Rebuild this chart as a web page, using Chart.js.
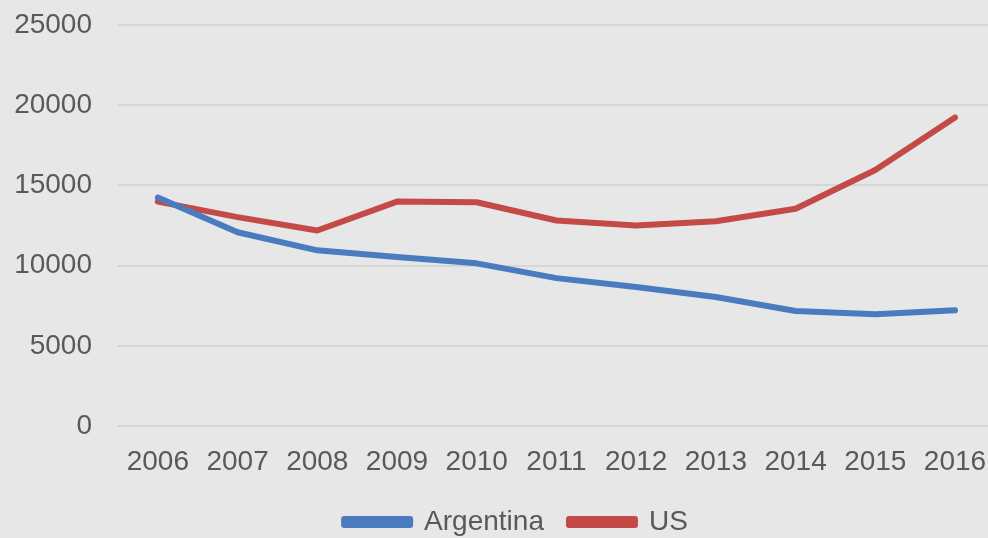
<!DOCTYPE html>
<html>
<head>
<meta charset="utf-8">
<script src="https://cdn.jsdelivr.net/npm/chart.js@4"></script>
<style>
    html, body { margin: 0; padding: 0; background: #e7e7e7; overflow: hidden; }
    #wrap { width: 988px; height: 538px; }
</style>
</head>
<body>
<div id="wrap"><canvas id="chart"></canvas></div>
<script>
let years = [2006, 2007, 2008, 2009, 2010, 2011, 2012, 2013, 2014, 2015, 2016];
let argentina = [14240, 12080, 10950, 10530, 10140, 9220, 8660, 8040, 7170, 6970, 7210];
let us = [13990, 13020, 12190, 13990, 13950, 12810, 12500, 12770, 13540, 15960, 19240];
let yTicks = [0, 5000, 10000, 15000, 20000, 25000];

let textColor = '#595959';
let font = { family: 'Liberation Sans, Arial, sans-serif', size: 28 };

function points(values) {
    return years.map((year, i) => ({ x: year, y: values[i] }));
}

function lineSet(label, values, color) {
    return {
        label: label,
        data: points(values),
        borderColor: color,
        backgroundColor: color,
        borderWidth: 6,
        borderCapStyle: 'round',
        borderJoinStyle: 'round',
        pointRadius: 0,
        tension: 0
    };
}

// fixed legend height so the item spacing can stay wide,
// and nudge it right like the original sits
let legendTweak = {
    id: 'legendTweak',
    beforeLayout(chart) {
        let legend = chart.legend;
        if (!legend || legend._patched) return;
        let fit = legend.fit;
        legend.fit = function () {
            fit.call(this);
            this.height = 55;
        };
        legend._patched = true;
    },
    afterLayout(chart) {
        let legend = chart.legend;
        if (!legend) return;
        legend.left += 22;
        legend.right += 22;
    }
};

new Chart(document.getElementById('chart'), {
    type: 'line',
    data: {
        datasets: [
            lineSet('Argentina', argentina, '#4a7bbf'),
            lineSet('US', us, '#c44a47')
        ]
    },
    options: {
        responsive: true,
        maintainAspectRatio: false,
        animation: false,
        layout: { padding: { top: 25, right: 0, bottom: 0, left: 0 } },
        scales: {
            x: {
                type: 'linear',
                min: 2005.5,
                max: 2016.414,
                afterBuildTicks: scale => { scale.ticks = years.map(v => ({ value: v })); },
                afterFit: scale => {
                    scale.paddingLeft = 0;
                    scale.paddingRight = 0;
                    scale.height = 57;
                },
                grid: { display: false },
                border: { display: false },
                ticks: { color: textColor, font: font, padding: 11, maxRotation: 0, callback: v => String(v) }
            },
            y: {
                min: 0,
                max: 25000,
                afterBuildTicks: scale => { scale.ticks = yTicks.map(v => ({ value: v })); },
                afterFit: scale => {
                    scale.width = 118;
                    scale.paddingTop = 0;
                    scale.paddingBottom = 0;
                },
                grid: { color: '#d6d6d6', lineWidth: 2, drawTicks: false },
                border: { display: false },
                ticks: { color: textColor, font: font, padding: 26, callback: v => String(v) }
            }
        },
        plugins: {
            legend: {
                position: 'bottom',
                labels: { color: textColor, font: font, boxWidth: 66, boxHeight: 6, padding: 25 }
            },
            tooltip: { enabled: false }
        }
    },
    plugins: [legendTweak]
});
</script>
</body>
</html>
